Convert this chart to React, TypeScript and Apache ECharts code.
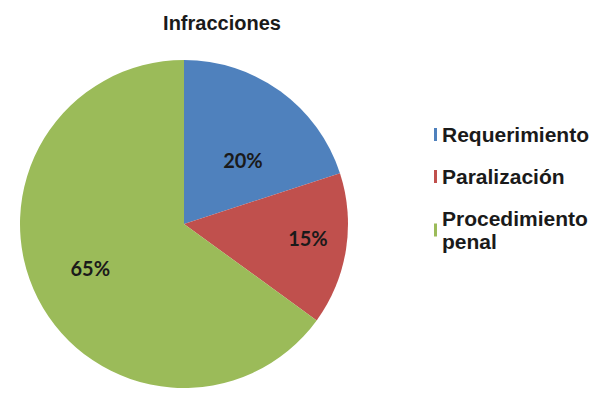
import React, { useEffect, useRef } from "react";
import * as echarts from "echarts";

const categories = ["Requerimiento", "Paralización", "Procedimiento\npenal"];
const values = [20, 15, 65];
const colors = ["#4F81BD", "#C0504D", "#9BBB59"];
const labelOffsets = [[9, 5], [40, 1], [-18, 5]];

export default function App() {
  const ref = useRef<HTMLDivElement>(null);
  useEffect(() => {
    const chart = echarts.init(ref.current!, null, { renderer: "svg" });
    chart.setOption({
      animation: false,
      backgroundColor: "#ffffff",
      title: {
        text: "Infracciones",
        left: 209,
        top: 0,
        textAlign: "center",
        textStyle: { fontFamily: "Liberation Sans, Arial", fontWeight: "bold", fontSize: 20, color: "#1a1a1a" },
      },
      legend: {
        orient: "vertical",
        left: 421,
        top: 110,
        itemWidth: 3,
        itemHeight: 13,
        itemGap: 19,
        icon: "rect",
        textStyle: { fontFamily: "Liberation Sans, Arial", fontWeight: "bold", fontSize: 21, color: "#1a1a1a", lineHeight: 23 },
        data: categories,
      },
      series: [
        {
          type: "pie",
          center: [176, 216],
          radius: 164,
          startAngle: 90,
          clockwise: true,
          label: {
            show: true,
            position: "inner",
            formatter: "{d}%",
            fontFamily: "Lato, Open Sans, Liberation Sans, Arial",
            fontWeight: "bold",
            fontSize: 20,
            color: "#1a1a1a",
          },
          labelLine: { show: false },
          itemStyle: { borderWidth: 0 },
          data: categories.map((c, i) => ({
            name: c,
            value: values[i],
            itemStyle: { color: colors[i] },
            label: { offset: labelOffsets[i] },
          })),
        },
      ],
    });
    return () => chart.dispose();
  }, []);
  return <div ref={ref} style={{ width: 602, height: 395 }} />;
}
